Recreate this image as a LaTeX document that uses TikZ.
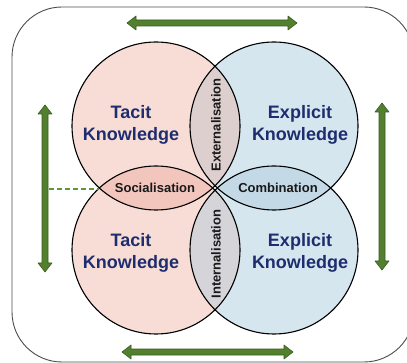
\documentclass[tikz,border=0pt]{standalone}
\usepackage{fontspec}
\setmainfont{Liberation Sans}
\definecolor{pinkone}{RGB}{247,221,214}
\definecolor{blueone}{RGB}{214,230,239}
\definecolor{socfill}{RGB}{242,198,188}
\definecolor{combfill}{RGB}{195,217,230}
\definecolor{extfill}{RGB}{222,207,207}
\definecolor{intfill}{RGB}{213,212,216}
\definecolor{navy}{RGB}{30,45,110}
\definecolor{lenstext}{RGB}{25,25,25}
\definecolor{arrgreen}{RGB}{82,128,46}
\definecolor{arrdark}{RGB}{58,92,32}
\definecolor{dashgreen}{RGB}{98,148,58}
\newcommand\myharrow[3]{%
  \draw[garrow] (#1,#3) -- ({#1+9},{#3-7}) -- ({#1+9},{#3-3}) -- ({#2-9},{#3-3}) -- ({#2-9},{#3-7}) -- (#2,#3) -- ({#2-9},{#3+7}) -- ({#2-9},{#3+3}) -- ({#1+9},{#3+3}) -- ({#1+9},{#3+7}) -- cycle;}
\newcommand\myvarrow[3]{%
  \draw[garrow] (#3,#1) -- ({#3-7},{#1+9}) -- ({#3-3},{#1+9}) -- ({#3-3},{#2-9}) -- ({#3-7},{#2-9}) -- (#3,#2) -- ({#3+7},{#2-9}) -- ({#3+3},{#2-9}) -- ({#3+3},{#1+9}) -- ({#3+7},{#1+9}) -- cycle;}
\newcommand\mylens[3]{%
  \begin{scope}\clip #1 circle[radius=84pt]; \fill[#3] #2 circle[radius=84pt];\end{scope}}
\begin{document}
\begin{tikzpicture}[x=1pt,y=-1pt,
  circline/.style={draw=black,line width=1.1pt},
  knw/.style={font=\fontsize{18}{22}\selectfont\bfseries,text=navy,align=center},
  lens/.style={font=\fontsize{13}{15}\selectfont\bfseries,text=lenstext},
  garrow/.style={fill=arrgreen,draw=arrdark,line width=0.6pt,line join=round},
  frame/.style={draw=black!70,line width=0.9pt,rounded corners=50pt}
]
\useasboundingbox (0,0) rectangle (407,363);
\draw[frame] (12,7) rectangle (414,362);
% circles
\fill[pinkone] (156,126) circle[radius=84pt];
\fill[pinkone] (156,250) circle[radius=84pt];
\fill[blueone] (274,126) circle[radius=84pt];
\fill[blueone] (274,250) circle[radius=84pt];
\mylens{(156,126)}{(274,126)}{extfill}
\mylens{(156,250)}{(274,250)}{intfill}
\mylens{(156,126)}{(156,250)}{socfill}
\mylens{(274,126)}{(274,250)}{combfill}
\draw[circline] (156,126) circle[radius=84pt];
\draw[circline] (156,250) circle[radius=84pt];
\draw[circline] (274,126) circle[radius=84pt];
\draw[circline] (274,250) circle[radius=84pt];
% texts
\node[knw] (tk1) at (131,125) {Tacit\\Knowledge};
\node[knw] (ek1) at (300,125) {Explicit\\Knowledge};
\node[knw] (tk2) at (131,253) {Tacit\\Knowledge};
\node[knw] (ek2) at (300,253) {Explicit\\Knowledge};
\node[lens,rotate=90] (ext) at (216,125) {Externalisation};
\node[lens,rotate=90] (int) at (216,254) {Internalisation};
\node[lens] (soc) at (155,188) {Socialisation};
\node[lens] (comb) at (278,188) {Combination};
% arrows
\myharrow{127}{297}{23}
\myharrow{122}{293}{352}
\myvarrow{105}{272}{45}
\myvarrow{103}{270}{382}
% dashed link
\coordinate (larr) at (49,189);
\coordinate (soctip) at (99,189);
\draw[dashgreen,line width=1.2pt,dash pattern=on 5pt off 3pt] (larr) -- (soctip);
\end{tikzpicture}
\end{document}
